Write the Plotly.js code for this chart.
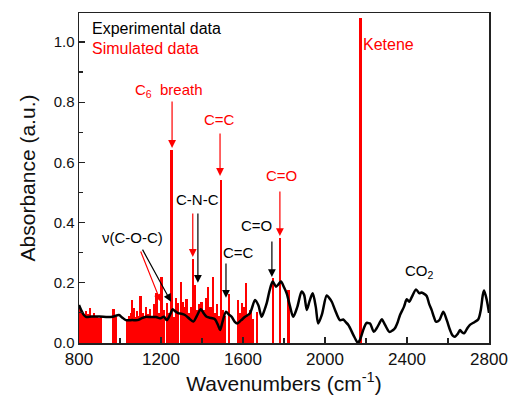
<!DOCTYPE html>
<html>
<head>
<meta charset="utf-8">
<script src="https://cdn.plot.ly/plotly-3.0.1.min.js"></script>
<style>
  html, body { margin: 0; padding: 0; background: #fff; }
  #chart { width: 512px; height: 397px; }
</style>
</head>
<body>
<div id="chart"></div>
<script>
// Measured FTIR spectrum (wavenumber in cm^-1, absorbance in a.u.)
const expWavenumber = [
  800, 810, 822, 834, 860, 900, 940, 964, 995, 1010, 1029, 1060, 1086, 1105, 1127,
  1150, 1176, 1195, 1215, 1228, 1245, 1257, 1270, 1284, 1300, 1317, 1340, 1358, 1375,
  1394, 1410, 1423, 1445, 1463, 1478, 1488, 1500, 1517, 1530, 1545, 1560, 1572, 1590,
  1610, 1634, 1659, 1675, 1691, 1705, 1716, 1730, 1745, 1761, 1773, 1785, 1800, 1813,
  1830, 1845, 1865, 1886, 1898, 1911, 1925, 1940, 1955, 1967, 1985, 2008, 2020, 2033,
  2049, 2073, 2089, 2100, 2114, 2138, 2155, 2162, 2170, 2179, 2190, 2203, 2212, 2220,
  2238, 2252, 2265, 2277, 2293, 2314, 2330, 2341, 2355, 2366, 2385, 2399, 2411, 2425,
  2444, 2460, 2470, 2480, 2496, 2508, 2520, 2532, 2541, 2558, 2577, 2594, 2610, 2622,
  2634, 2647, 2659, 2668, 2678, 2695, 2707, 2730, 2748, 2760, 2770, 2776, 2789, 2800
];
const expAbsorbance = [
  0.126, 0.110, 0.095, 0.087, 0.088, 0.088, 0.086, 0.087, 0.093, 0.085, 0.076, 0.076, 0.076, 0.082, 0.087,
  0.086, 0.086, 0.082, 0.087, 0.076, 0.095, 0.112, 0.105, 0.099, 0.097, 0.093, 0.080, 0.071, 0.090,
  0.112, 0.097, 0.087, 0.083, 0.079, 0.060, 0.043, 0.070, 0.104, 0.095, 0.087, 0.070, 0.065, 0.075,
  0.087, 0.099, 0.143, 0.125, 0.087, 0.110, 0.133, 0.175, 0.204, 0.187, 0.195, 0.204, 0.185, 0.165,
  0.120, 0.087, 0.120, 0.171, 0.160, 0.110, 0.140, 0.165, 0.120, 0.065, 0.095, 0.158, 0.150, 0.137,
  0.110, 0.076, 0.078, 0.070, 0.060, 0.027, 0.005, 0.001, 0.010, 0.027, 0.050, 0.067, 0.066, 0.065,
  0.037, 0.049, 0.065, 0.079, 0.060, 0.037, 0.042, 0.049, 0.070, 0.093, 0.120, 0.145, 0.137, 0.155,
  0.178, 0.165, 0.168, 0.165, 0.156, 0.130, 0.110, 0.085, 0.071, 0.076, 0.104, 0.076, 0.043, 0.025,
  0.021, 0.030, 0.043, 0.036, 0.032, 0.050, 0.060, 0.070, 0.079, 0.110, 0.160, 0.174, 0.143, 0.100
];

// Calculated vibrational modes (stick spectrum)
const simWavenumber = [
  803, 813, 822, 833, 843, 854, 864, 874, 885, 896, 906,
  968, 978,
  1036, 1044, 1052, 1060, 1068, 1076, 1084, 1092, 1100, 1110, 1118, 1128, 1138, 1148,
  1158, 1168, 1178, 1190, 1203, 1214, 1228, 1240, 1251,
  1262, 1272, 1283, 1296, 1306, 1315, 1324, 1336, 1346, 1357, 1366, 1376, 1388, 1398,
  1410, 1421, 1431, 1442, 1452, 1462, 1472, 1480, 1493, 1502, 1512, 1530,
  1576, 1586, 1596, 1605, 1615, 1625, 1636, 1648, 1667,
  1745, 1782, 1822
];
const simIntensity = [
  0.115, 0.100, 0.090, 0.105, 0.095, 0.115, 0.085, 0.100, 0.090, 0.083, 0.085,
  0.113, 0.085,
  0.075, 0.090, 0.100, 0.143, 0.115, 0.085, 0.105, 0.090, 0.157, 0.100, 0.085, 0.120, 0.095, 0.113,
  0.090, 0.130, 0.165, 0.100, 0.220, 0.110, 0.133, 0.100, 0.641,
  0.087, 0.150, 0.133, 0.204, 0.137, 0.120, 0.146, 0.100, 0.120, 0.278, 0.193, 0.110, 0.130, 0.137,
  0.110, 0.150, 0.187, 0.120, 0.220, 0.100, 0.130, 0.090, 0.542, 0.110, 0.090, 0.163,
  0.143, 0.100, 0.133, 0.120, 0.198, 0.090, 0.110, 0.080, 0.104,
  0.216, 0.348, 0.176
];

// Ketene band
const keteneWavenumber = [2175];
const keteneIntensity = [1.08];

const FONT = 'Arial, "Liberation Sans", sans-serif';
const RED = '#ff0000';

const traces = [
  {
    type: 'bar',
    x: simWavenumber,
    y: simIntensity,
    width: 11,
    marker: { color: RED, line: { width: 0 } },
    hoverinfo: 'x+y'
  },
  {
    type: 'bar',
    x: keteneWavenumber,
    y: keteneIntensity,
    width: 14,
    marker: { color: RED, line: { width: 0 } },
    hoverinfo: 'x+y'
  },
  {
    type: 'scatter',
    mode: 'lines',
    x: expWavenumber,
    y: expAbsorbance,
    line: { color: '#000', width: 2.5, shape: 'spline', smoothing: 0.8 },
    hoverinfo: 'x+y'
  }
];

function label(text, x, y, color, size, xanchor) {
  return {
    text: text, x: x, y: y, xref: 'x', yref: 'y',
    showarrow: false, xanchor: xanchor || 'center', yanchor: 'middle',
    font: { family: FONT, size: size || 15, color: color }
  };
}
function arrow(x, y, ax, ay, color) {
  return {
    text: '', x: x, y: y, ax: ax, ay: ay,
    xref: 'x', yref: 'y', axref: 'x', ayref: 'y',
    showarrow: true, arrowhead: 2, arrowsize: 1.3, arrowwidth: 1.2,
    arrowcolor: color, standoff: 0, startstandoff: 0
  };
}

const annotations = [
  label('Experimental data', 854, 1.043, '#000', 16, 'left'),
  label('Simulated data', 854, 0.977, RED, 16, 'left'),
  label('Ketene', 2312, 0.99, RED, 16),
  label('C<sub>6</sub>  breath', 1239, 0.84, RED, 15),
  label('C=C', 1483, 0.741, RED, 15),
  label('C=O', 1790, 0.555, RED, 15),
  label('C-N-C', 1376, 0.475, '#000', 15),
  label('C=O', 1668, 0.389, '#000', 15),
  label('C=C', 1580, 0.302, '#000', 15),
  label('ν(C-O-C)', 1059, 0.352, '#000', 15),
  label('CO<sub>2</sub>', 2463, 0.236, '#000', 15),

  arrow(1254, 0.648, 1254, 0.807, RED),
  arrow(1488, 0.555, 1488, 0.701, RED),
  arrow(1780, 0.355, 1780, 0.508, RED),
  arrow(1355, 0.286, 1355, 0.435, RED),
  arrow(1380, 0.200, 1380, 0.435, '#000'),
  arrow(1741, 0.219, 1741, 0.342, '#000'),
  arrow(1517, 0.150, 1517, 0.269, '#000'),
  arrow(1199, 0.137, 1098, 0.309, RED),
  arrow(1249, 0.137, 1106, 0.315, '#000')
];

const axisCommon = {
  showline: true, mirror: true, linecolor: '#222', linewidth: 1.5,
  showgrid: false, zeroline: false,
  ticks: 'inside', ticklen: 6, tickwidth: 1.2, tickcolor: '#222'
};

const layout = {
  width: 512, height: 397,
  margin: { l: 79, r: 23, t: 13, b: 54 },
  paper_bgcolor: '#fff', plot_bgcolor: '#fff',
  showlegend: false,
  bargap: 0,
  barmode: 'overlay',
  font: { family: FONT, color: '#111' },
  xaxis: Object.assign({}, axisCommon, {
    range: [800, 2800],
    tick0: 800, dtick: 400,
    tickfont: { family: FONT, size: 17, color: '#111' },
    minor: { dtick: 200, ticks: 'inside', ticklen: 5, tickwidth: 1.2, tickcolor: '#222' },
    title: { text: 'Wavenumbers (cm<sup>-1</sup>)', font: { family: FONT, size: 21, color: '#111' }, standoff: 6 }
  }),
  yaxis: Object.assign({}, axisCommon, {
    range: [0, 1.096],
    tick0: 0, dtick: 0.2, tickformat: '.1f',
    tickfont: { family: FONT, size: 15, color: '#111' },
    minor: { dtick: 0.1, ticks: 'inside', ticklen: 4, tickwidth: 1.2, tickcolor: '#222' },
    title: { text: 'Absorbance (a.u.)', font: { family: FONT, size: 21, color: '#111' }, standoff: 12 }
  }),
  annotations: annotations
};

Plotly.newPlot('chart', traces, layout, { staticPlot: true, displayModeBar: false });
</script>
</body>
</html>
